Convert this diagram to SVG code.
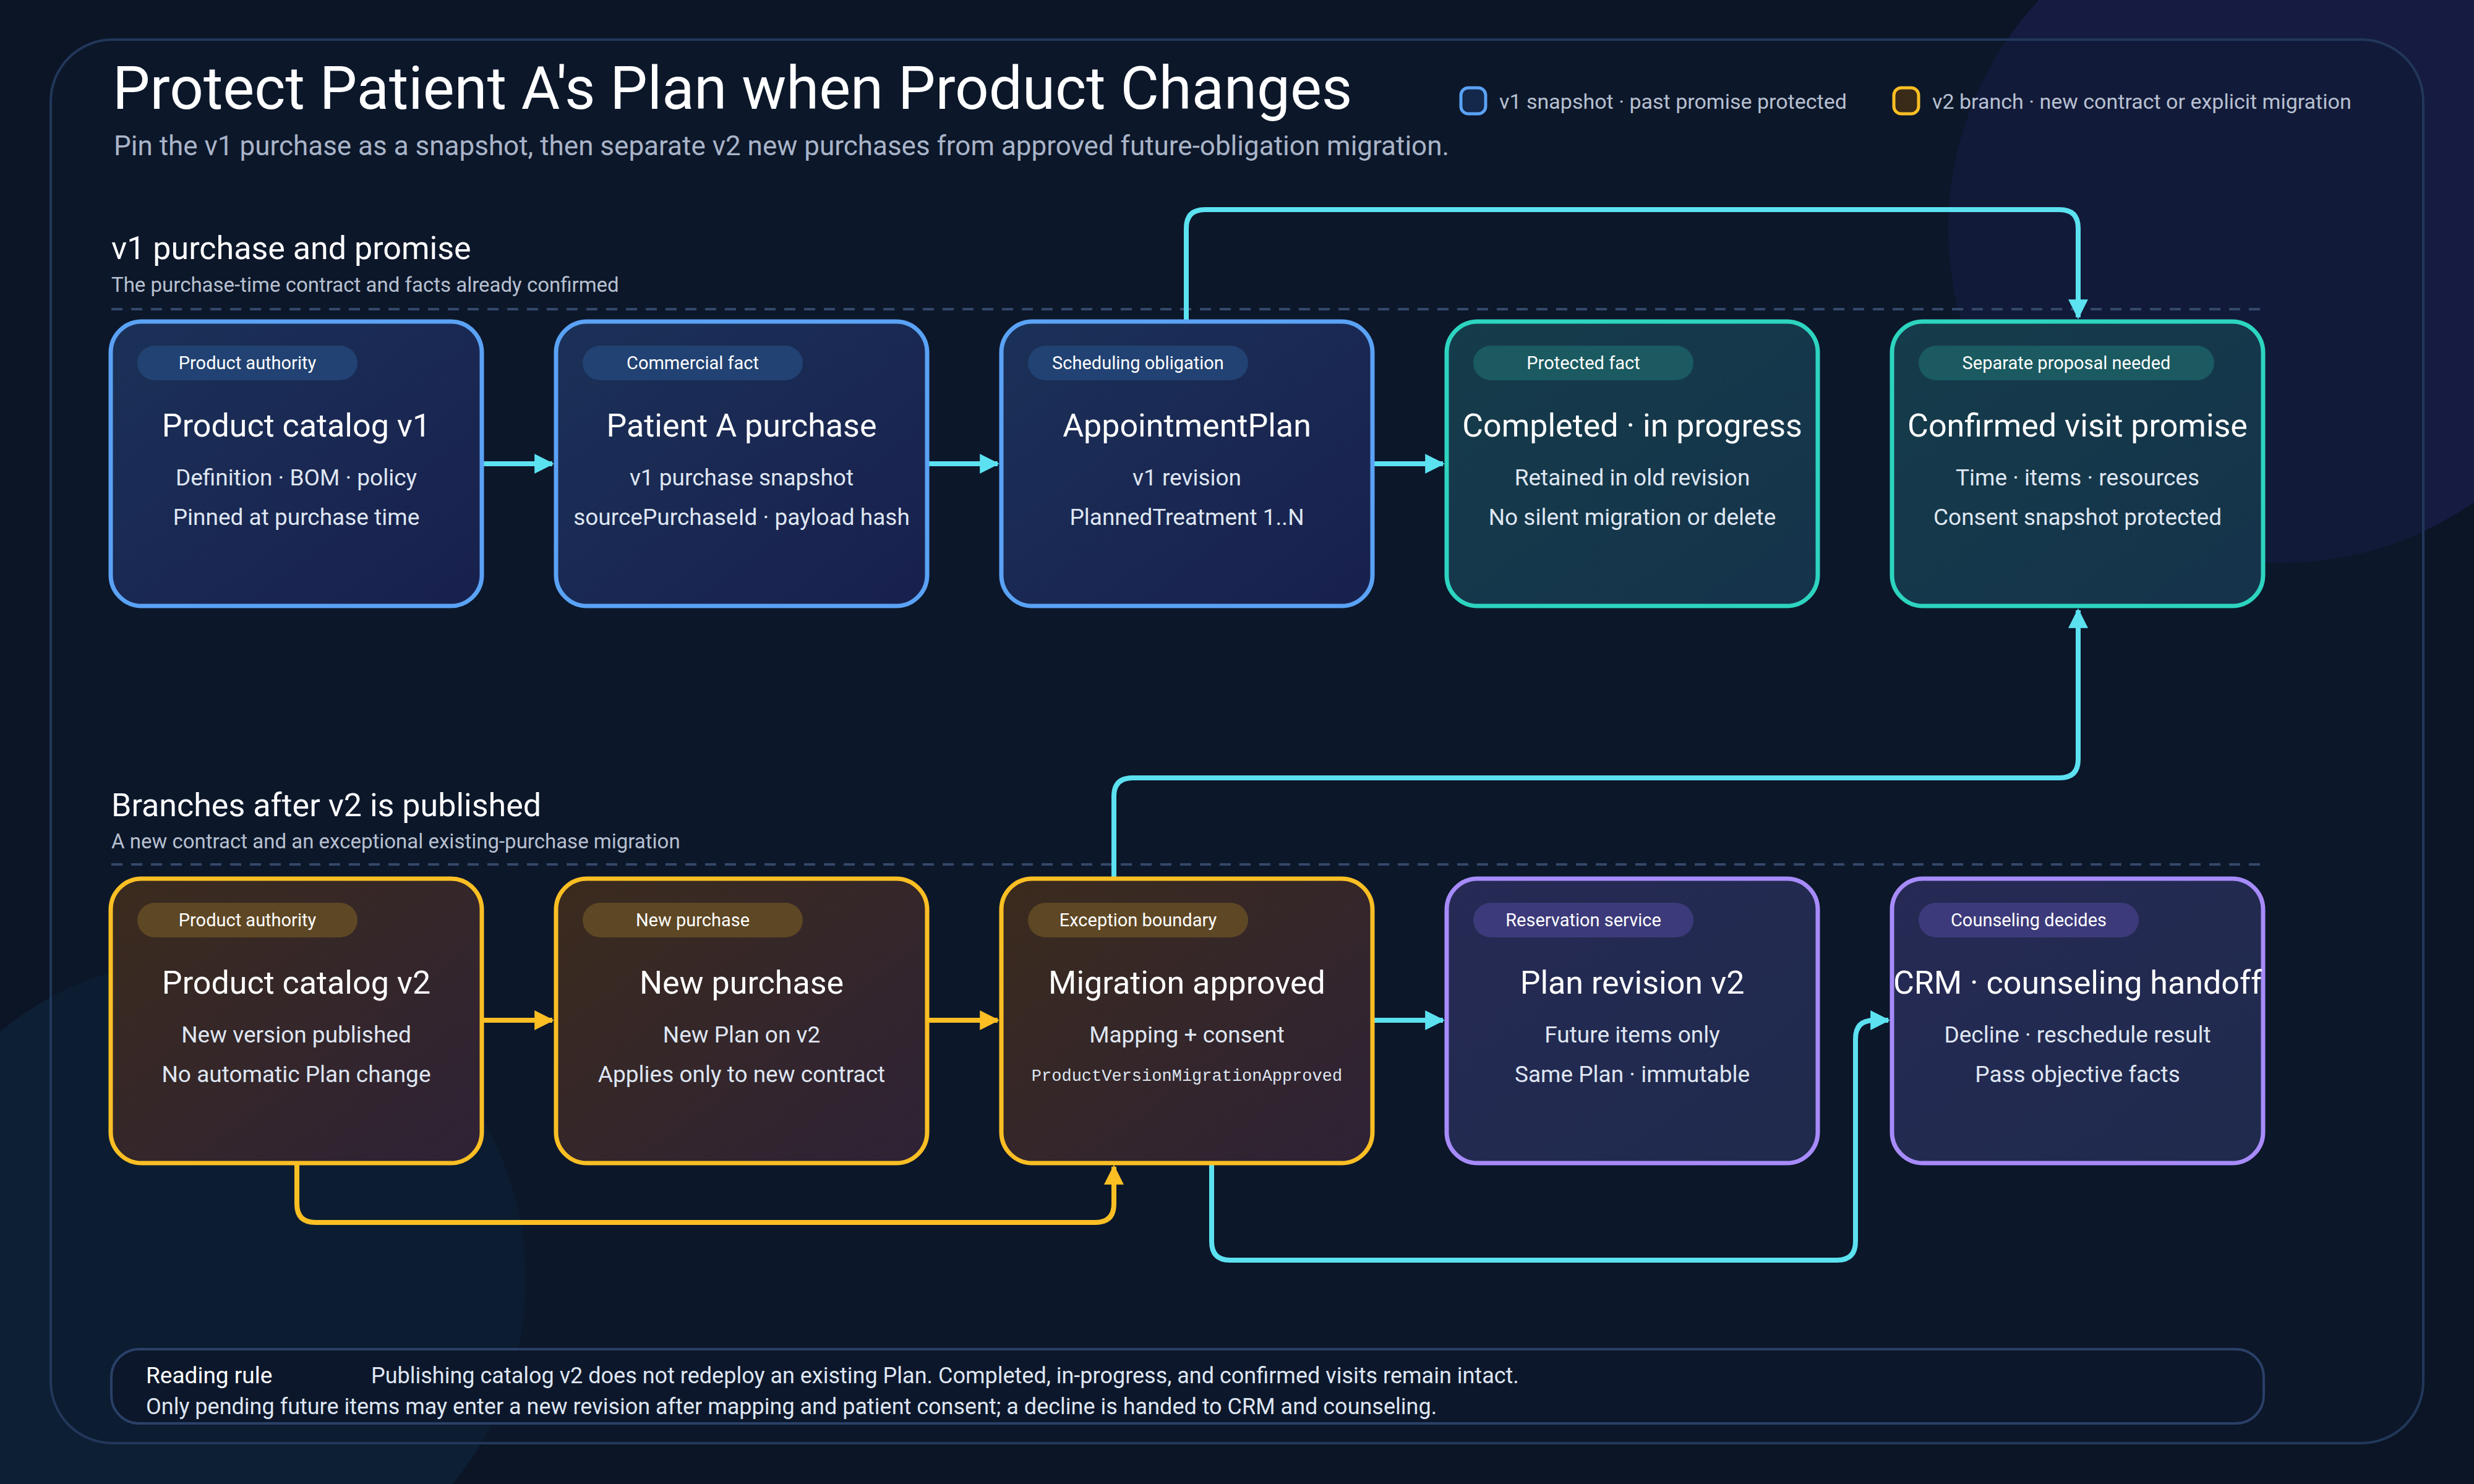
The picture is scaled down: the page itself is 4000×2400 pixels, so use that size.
<svg xmlns="http://www.w3.org/2000/svg" width="4000" height="2400" viewBox="0 0 4000 2400">
<defs>
<linearGradient id="gb" x1="0" y1="0" x2="1" y2="1"><stop offset="0" stop-color="#1b3158"/><stop offset="1" stop-color="#18204d"/></linearGradient>
<linearGradient id="gt" x1="0" y1="0" x2="1" y2="1"><stop offset="0" stop-color="#153c4a"/><stop offset="1" stop-color="#15334b"/></linearGradient>
<linearGradient id="gy" x1="0" y1="0" x2="1" y2="1"><stop offset="0" stop-color="#3b2b1d"/><stop offset="1" stop-color="#2e2236"/></linearGradient>
<linearGradient id="gp" x1="0" y1="0" x2="1" y2="1"><stop offset="0" stop-color="#262a55"/><stop offset="1" stop-color="#1f2a4c"/></linearGradient>
<marker id="ac" viewBox="0 0 10 10" refX="9" refY="5" markerWidth="4" markerHeight="4" orient="auto" markerUnits="strokeWidth"><path d="M0,0 L10,5 L0,10 z" fill="#5ce1f0"/></marker>
<marker id="ay" viewBox="0 0 10 10" refX="9" refY="5" markerWidth="4" markerHeight="4" orient="auto" markerUnits="strokeWidth"><path d="M0,0 L10,5 L0,10 z" fill="#fbbf24"/></marker>
</defs>
<style>
text{font-family:Roboto,"Liberation Sans",sans-serif}
.t{fill:#ffffff;font-size:52px;text-anchor:middle}
.l{fill:#dfe6f2;font-size:37px;text-anchor:middle}
.p{fill:#ffffff;font-size:29px;text-anchor:middle}
.mono{font-family:"Liberation Mono","DejaVu Sans Mono",monospace;font-size:27px}
.b rect.n{fill:url(#gb);stroke:#5aa2f5}
.tl rect.n{fill:url(#gt);stroke:#2dd4bf}
.y rect.n{fill:url(#gy);stroke:#fbbf24}
.pu rect.n{fill:url(#gp);stroke:#a78bfa}
rect.n{stroke-width:7}
.b rect.pill{fill:#214272}.tl rect.pill{fill:#1a5a60}.y rect.pill{fill:#5e4724}.pu rect.pill{fill:#3c3a7a}
.c{fill:none;stroke:#5ce1f0;stroke-width:8;stroke-linejoin:round}
.cy{fill:none;stroke:#fbbf24;stroke-width:8;stroke-linejoin:round}
.sh{fill:#ffffff;font-size:52px}
.ss{fill:#b7c0d0;font-size:33px}
.dash{stroke:#34486a;stroke-width:4;stroke-dasharray:18 14}
</style>
<rect width="4000" height="2400" fill="#0b1526"/>
<circle cx="3690" cy="370" r="540" fill="#171c45" opacity="0.9"/>
<circle cx="330" cy="2070" r="520" fill="#0c2036" opacity="0.9"/>
<rect x="82" y="64" width="3836" height="2270" rx="100" fill="#0e1a30" fill-opacity="0.45" stroke="#22375a" stroke-width="4"/>
<text x="182" y="176" fill="#ffffff" font-size="96">Protect Patient A's Plan when Product Changes</text>
<text x="184" y="251" fill="#a9b4c8" font-size="44">Pin the v1 purchase as a snapshot, then separate v2 new purchases from approved future-obligation migration.</text>
<g id="legend">
<rect x="2362" y="142" width="40" height="42" rx="12" fill="#13284a" stroke="#5aa2f5" stroke-width="5"/>
<text x="2424" y="176" fill="#b7c0d0" font-size="34">v1 snapshot · past promise protected</text>
<rect x="3062" y="142" width="40" height="42" rx="12" fill="#3a2a18" stroke="#fbbf24" stroke-width="5"/>
<text x="3124" y="176" fill="#b7c0d0" font-size="34">v2 branch · new contract or explicit migration</text>
</g>
<text x="180" y="419" class="sh">v1 purchase and promise</text>
<text x="180" y="472" class="ss">The purchase-time contract and facts already confirmed</text>
<line x1="180" y1="500" x2="3663" y2="500" class="dash"/>
<text x="180" y="1320" class="sh">Branches after v2 is published</text>
<text x="180" y="1372" class="ss">A new contract and an exceptional existing-purchase migration</text>
<line x1="180" y1="1398" x2="3663" y2="1398" class="dash"/>
<g id="connectors">
<path class="c" d="M778,750 H893" marker-end="url(#ac)"/>
<path class="c" d="M1498,750 H1613" marker-end="url(#ac)"/>
<path class="c" d="M2218,750 H2333" marker-end="url(#ac)"/>
<path class="c" d="M1918,520 V369 Q1918,339 1948,339 H3330 Q3360,339 3360,369 V513" marker-end="url(#ac)"/>
<path class="cy" d="M778,1650 H893" marker-end="url(#ay)"/>
<path class="cy" d="M1498,1650 H1613" marker-end="url(#ay)"/>
<path class="c" d="M2218,1650 H2333" marker-end="url(#ac)"/>
<path class="cy" d="M480,1880 V1947 Q480,1977 510,1977 H1771 Q1801,1977 1801,1947 V1887" marker-end="url(#ay)"/>
<path class="c" d="M1801,1421 V1288 Q1801,1258 1831,1258 H3330 Q3360,1258 3360,1228 V987" marker-end="url(#ac)"/>
<path class="c" d="M1959,1880 V2008 Q1959,2038 1989,2038 H2970 Q3000,2038 3000,2008 V1680 Q3000,1650 3030,1650 H3053" marker-end="url(#ac)"/>
</g>
<g id="n1" class="b"><rect class="n" x="179" y="520" width="600" height="460" rx="50"/><rect class="pill" x="222" y="559" width="356" height="56" rx="28"/><text class="p" x="400" y="597">Product authority</text><text class="t" x="479" y="706">Product catalog v1</text><text class="l" x="479" y="785">Definition · BOM · policy</text><text class="l" x="479" y="849">Pinned at purchase time</text></g>
<g id="n2" class="b"><rect class="n" x="899" y="520" width="600" height="460" rx="50"/><rect class="pill" x="942" y="559" width="356" height="56" rx="28"/><text class="p" x="1120" y="597">Commercial fact</text><text class="t" x="1199" y="706">Patient A purchase</text><text class="l" x="1199" y="785">v1 purchase snapshot</text><text class="l" x="1199" y="849">sourcePurchaseId · payload hash</text></g>
<g id="n3" class="b"><rect class="n" x="1619" y="520" width="600" height="460" rx="50"/><rect class="pill" x="1662" y="559" width="356" height="56" rx="28"/><text class="p" x="1840" y="597">Scheduling obligation</text><text class="t" x="1919" y="706">AppointmentPlan</text><text class="l" x="1919" y="785">v1 revision</text><text class="l" x="1919" y="849">PlannedTreatment 1..N</text></g>
<g id="n4" class="tl"><rect class="n" x="2339" y="520" width="600" height="460" rx="50"/><rect class="pill" x="2382" y="559" width="356" height="56" rx="28"/><text class="p" x="2560" y="597">Protected fact</text><text class="t" x="2639" y="706">Completed · in progress</text><text class="l" x="2639" y="785">Retained in old revision</text><text class="l" x="2639" y="849">No silent migration or delete</text></g>
<g id="n5" class="tl"><rect class="n" x="3059" y="520" width="600" height="460" rx="50"/><rect class="pill" x="3102" y="559" width="478" height="56" rx="28"/><text class="p" x="3341" y="597">Separate proposal needed</text><text class="t" x="3359" y="706">Confirmed visit promise</text><text class="l" x="3359" y="785">Time · items · resources</text><text class="l" x="3359" y="849">Consent snapshot protected</text></g>
<g id="m1" class="y"><rect class="n" x="179" y="1421" width="600" height="460" rx="50"/><rect class="pill" x="222" y="1460" width="356" height="56" rx="28"/><text class="p" x="400" y="1498">Product authority</text><text class="t" x="479" y="1607">Product catalog v2</text><text class="l" x="479" y="1686">New version published</text><text class="l" x="479" y="1750">No automatic Plan change</text></g>
<g id="m2" class="y"><rect class="n" x="899" y="1421" width="600" height="460" rx="50"/><rect class="pill" x="942" y="1460" width="356" height="56" rx="28"/><text class="p" x="1120" y="1498">New purchase</text><text class="t" x="1199" y="1607">New purchase</text><text class="l" x="1199" y="1686">New Plan on v2</text><text class="l" x="1199" y="1750">Applies only to new contract</text></g>
<g id="m3" class="y"><rect class="n" x="1619" y="1421" width="600" height="460" rx="50"/><rect class="pill" x="1662" y="1460" width="356" height="56" rx="28"/><text class="p" x="1840" y="1498">Exception boundary</text><text class="t" x="1919" y="1607">Migration approved</text><text class="l" x="1919" y="1686">Mapping + consent</text><text class="l mono" x="1919" y="1748">ProductVersionMigrationApproved</text></g>
<g id="m4" class="pu"><rect class="n" x="2339" y="1421" width="600" height="460" rx="50"/><rect class="pill" x="2382" y="1460" width="356" height="56" rx="28"/><text class="p" x="2560" y="1498">Reservation service</text><text class="t" x="2639" y="1607">Plan revision v2</text><text class="l" x="2639" y="1686">Future items only</text><text class="l" x="2639" y="1750">Same Plan · immutable</text></g>
<g id="m5" class="pu"><rect class="n" x="3059" y="1421" width="600" height="460" rx="50"/><rect class="pill" x="3102" y="1460" width="356" height="56" rx="28"/><text class="p" x="3280" y="1498">Counseling decides</text><text class="t" x="3359" y="1607">CRM · counseling handoff</text><text class="l" x="3359" y="1686">Decline · reschedule result</text><text class="l" x="3359" y="1750">Pass objective facts</text></g>
<g id="rule">
<rect x="180" y="2182" width="3480" height="120" rx="45" fill="#0c172b" stroke="#2a4068" stroke-width="4"/>
<text x="236" y="2237" fill="#ffffff" font-size="37">Reading rule</text>
<text x="600" y="2237" fill="#dfe6f2" font-size="36">Publishing catalog v2 does not redeploy an existing Plan. Completed, in-progress, and confirmed visits remain intact.</text>
<text x="236" y="2287" fill="#dfe6f2" font-size="36">Only pending future items may enter a new revision after mapping and patient consent; a decline is handed to CRM and counseling.</text>
</g>
</svg>
